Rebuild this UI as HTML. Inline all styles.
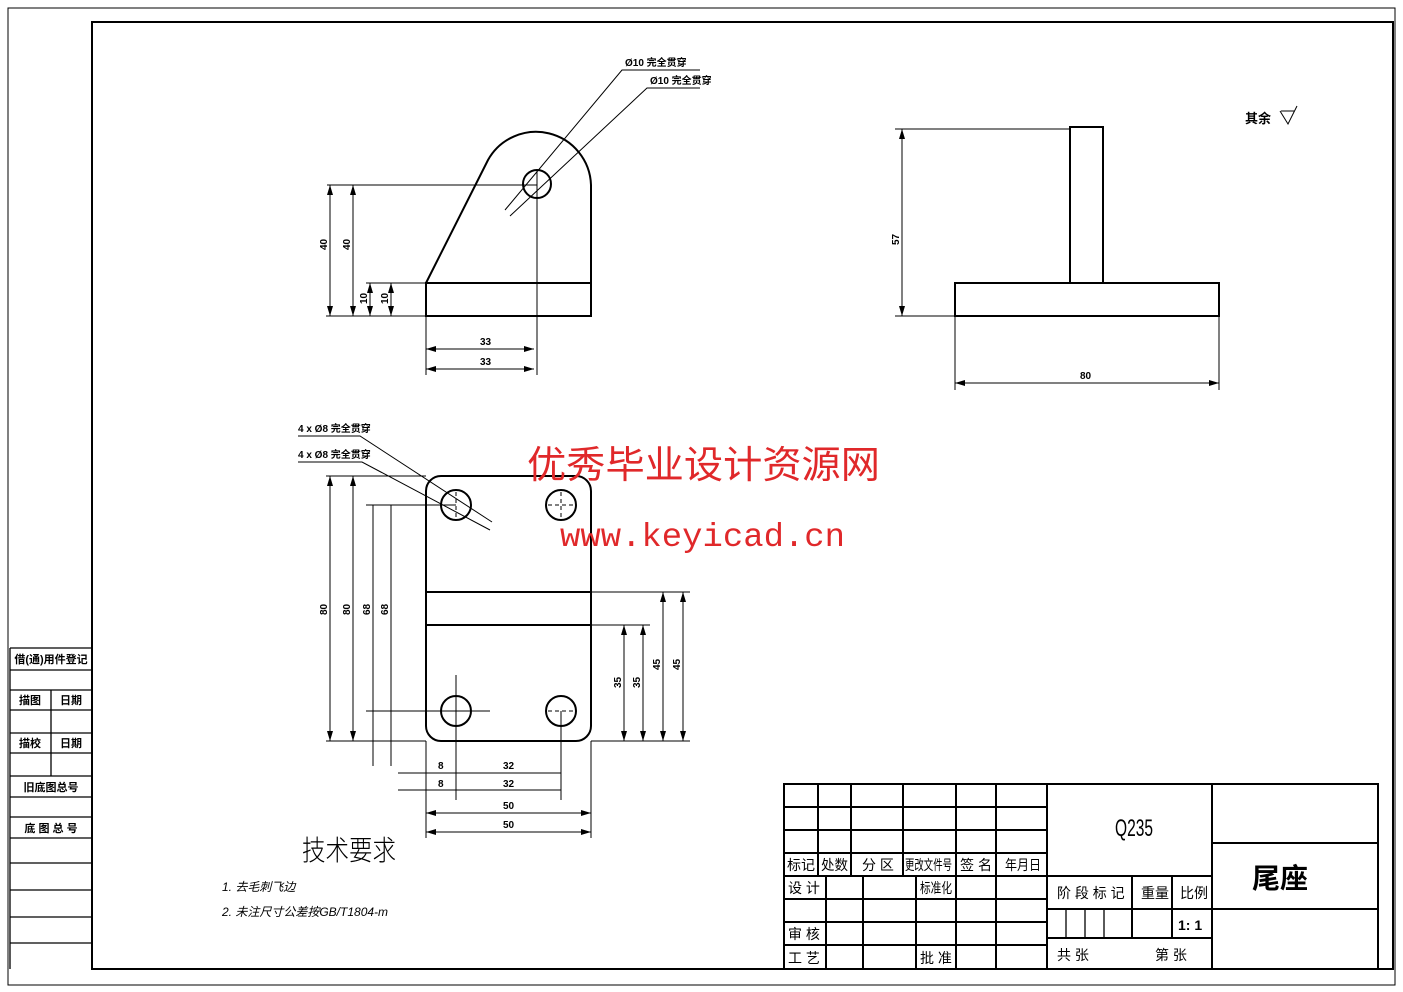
<!DOCTYPE html>
<html><head><meta charset="utf-8"><style>
html,body{margin:0;padding:0;background:#fff;}
svg{display:block;}
text{font-family:"Liberation Sans","Noto Sans CJK SC",sans-serif;fill:#000;}
</style></head><body>
<svg width="1403" height="992" viewBox="0 0 1403 992" xmlns="http://www.w3.org/2000/svg">
<defs>
<marker id="a" viewBox="0 0 10 6" refX="10" refY="3" markerWidth="10" markerHeight="6" orient="auto-start-reverse" markerUnits="userSpaceOnUse"><path d="M0,0L10,3L0,6z" fill="#000"/></marker>
</defs>
<rect x="8" y="8" width="1387" height="977" fill="none" stroke="#000" stroke-width="1"/>
<rect x="92" y="22" width="1301" height="947" fill="none" stroke="#000" stroke-width="2"/>
<g stroke="#000" stroke-width="1.3" fill="none">
<line x1="10" y1="648" x2="10" y2="969"/>
<line x1="10" y1="648" x2="92" y2="648"/>
<line x1="10" y1="670" x2="92" y2="670"/>
<line x1="10" y1="690" x2="92" y2="690"/>
<line x1="10" y1="710" x2="92" y2="710"/>
<line x1="10" y1="733" x2="92" y2="733"/>
<line x1="10" y1="753" x2="92" y2="753"/>
<line x1="10" y1="776" x2="92" y2="776"/>
<line x1="10" y1="797" x2="92" y2="797"/>
<line x1="10" y1="817" x2="92" y2="817"/>
<line x1="10" y1="838" x2="92" y2="838"/>
<line x1="10" y1="863" x2="92" y2="863"/>
<line x1="10" y1="890" x2="92" y2="890"/>
<line x1="10" y1="917" x2="92" y2="917"/>
<line x1="10" y1="943" x2="92" y2="943"/>
<line x1="51" y1="690" x2="51" y2="776"/>
</g>
<g font-size="11" font-weight="bold" text-anchor="middle">
<text x="51" y="663">借(通)用件登记</text>
<text x="30" y="704">描图</text><text x="71" y="704">日期</text>
<text x="30" y="747">描校</text><text x="71" y="747">日期</text>
<text x="51" y="791">旧底图总号</text>
<text x="51" y="832">底 图 总 号</text>
</g>
<g stroke="#000" stroke-width="2" fill="none">
<rect x="784" y="784" width="594" height="185"/>
<line x1="784" y1="807" x2="1047" y2="807"/>
<line x1="784" y1="830" x2="1047" y2="830"/>
<line x1="784" y1="853" x2="1047" y2="853"/>
<line x1="784" y1="876" x2="1212" y2="876"/>
<line x1="784" y1="899" x2="1047" y2="899"/>
<line x1="784" y1="922" x2="1047" y2="922"/>
<line x1="784" y1="945" x2="1047" y2="945"/>
<line x1="818" y1="784" x2="818" y2="876"/>
<line x1="851" y1="784" x2="851" y2="876"/>
<line x1="903" y1="784" x2="903" y2="876"/>
<line x1="956" y1="784" x2="956" y2="969"/>
<line x1="996" y1="784" x2="996" y2="969"/>
<line x1="1047" y1="784" x2="1047" y2="969"/>
<line x1="826" y1="876" x2="826" y2="969"/>
<line x1="863" y1="876" x2="863" y2="969"/>
<line x1="916" y1="876" x2="916" y2="969"/>
<line x1="1212" y1="784" x2="1212" y2="969"/>
<line x1="1047" y1="909" x2="1212" y2="909"/>
<line x1="1047" y1="938" x2="1212" y2="938"/>
<line x1="1132" y1="876" x2="1132" y2="938"/>
<line x1="1172" y1="876" x2="1172" y2="938"/>
<line x1="1212" y1="843" x2="1378" y2="843"/>
<line x1="1212" y1="909" x2="1378" y2="909"/>
</g>
<g stroke="#000" stroke-width="1.3"><line x1="1066" y1="909" x2="1066" y2="938"/><line x1="1085" y1="909" x2="1085" y2="938"/><line x1="1104" y1="909" x2="1104" y2="938"/></g>
<g font-size="14">
<text x="787" y="870" textLength="28" lengthAdjust="spacingAndGlyphs">标记</text>
<text x="821" y="870" textLength="27" lengthAdjust="spacingAndGlyphs">处数</text>
<text x="862" y="870">分 区</text>
<text x="905" y="870" textLength="47" lengthAdjust="spacingAndGlyphs">更改文件号</text>
<text x="960" y="870" textLength="32" lengthAdjust="spacingAndGlyphs">签 名</text>
<text x="1005" y="870" textLength="36" lengthAdjust="spacingAndGlyphs">年月日</text>
<text x="788" y="893">设 计</text>
<text x="920" y="893" textLength="32" lengthAdjust="spacingAndGlyphs">标准化</text>
<text x="788" y="939">审 核</text><text x="788" y="963">工 艺</text><text x="920" y="963">批 准</text>
<text x="1057" y="898">阶 段 标 记</text><text x="1141" y="898">重量</text><text x="1180" y="898">比例</text>
<text x="1178" y="930" font-weight="bold">1: 1</text>
<text x="1057" y="960">共    张</text><text x="1155" y="960">第    张</text>
</g>
<text x="1134" y="836" font-size="24" text-anchor="middle" textLength="38" lengthAdjust="spacingAndGlyphs">Q235</text>
<text x="1280" y="888" font-size="28" font-weight="bold" text-anchor="middle">尾座</text>
<g stroke="#000" stroke-width="2" fill="none">
<rect x="426" y="283" width="165" height="33"/>
<path d="M426,283 L488,160 A55,55 0 0 1 591,185 L591,283"/>
<circle cx="537" cy="184" r="14"/>
</g>
<g stroke="#000" stroke-width="1" fill="none">
<line x1="327" y1="185" x2="537" y2="185"/><line x1="537" y1="170" x2="537" y2="375"/>
<line x1="326" y1="316" x2="426" y2="316"/><line x1="366" y1="283" x2="426" y2="283"/>
<line x1="426" y1="316" x2="426" y2="375"/>
<line x1="330" y1="185" x2="330" y2="316" marker-start="url(#a)" marker-end="url(#a)"/>
<line x1="353" y1="185" x2="353" y2="316" marker-start="url(#a)" marker-end="url(#a)"/>
<line x1="370" y1="283" x2="370" y2="316" marker-start="url(#a)" marker-end="url(#a)"/>
<line x1="391" y1="283" x2="391" y2="316" marker-start="url(#a)" marker-end="url(#a)"/>
<line x1="426" y1="349" x2="534" y2="349" marker-start="url(#a)" marker-end="url(#a)"/>
<line x1="426" y1="369" x2="534" y2="369" marker-start="url(#a)" marker-end="url(#a)"/>
<polyline points="505,210 622,70 700,70"/>
<polyline points="510,216 647,88 700,88"/>
</g>
<g font-size="10" font-weight="bold">
<text x="625" y="66">Ø10 完全贯穿</text><text x="650" y="84">Ø10 完全贯穿</text>
<text x="480" y="345">33</text><text x="480" y="365">33</text>
<text transform="translate(327,250) rotate(-90)">40</text><text transform="translate(350,250) rotate(-90)">40</text>
<text transform="translate(367,304) rotate(-90)">10</text><text transform="translate(388,304) rotate(-90)">10</text>
</g>
<g stroke="#000" stroke-width="2" fill="none">
<rect x="1070" y="127" width="33" height="156"/>
<rect x="955" y="283" width="264" height="33"/>
</g>
<g stroke="#000" stroke-width="1" fill="none">
<line x1="895" y1="129" x2="1070" y2="129"/><line x1="895" y1="316" x2="955" y2="316"/>
<line x1="902" y1="129" x2="902" y2="316" marker-start="url(#a)" marker-end="url(#a)"/>
<line x1="955" y1="316" x2="955" y2="390"/><line x1="1219" y1="316" x2="1219" y2="390"/>
<line x1="955" y1="383" x2="1219" y2="383" marker-start="url(#a)" marker-end="url(#a)"/>
<path d="M1280,111 L1288,124 L1297,106 M1281,111 L1294,111"/>
</g>
<g font-size="10" font-weight="bold">
<text transform="translate(899,245) rotate(-90)">57</text>
<text x="1080" y="379">80</text>
<text x="1245" y="123" font-size="13">其余</text>
</g>
<g stroke="#000" stroke-width="2" fill="none">
<rect x="426" y="476" width="165" height="265" rx="15"/>
<line x1="426" y1="592" x2="591" y2="592"/><line x1="426" y1="625" x2="591" y2="625"/>
<circle cx="456" cy="505" r="15"/><circle cx="561" cy="505" r="15"/>
<circle cx="456" cy="711" r="15"/><circle cx="561" cy="711" r="15"/>
</g>
<g stroke="#000" stroke-width="1" fill="none" stroke-dasharray="4,3">
<line x1="548" y1="505" x2="574" y2="505"/><line x1="561" y1="492" x2="561" y2="518"/>
<line x1="548" y1="711" x2="574" y2="711"/>
<line x1="456" y1="492" x2="456" y2="518"/>
</g>
<g stroke="#000" stroke-width="1" fill="none">
<line x1="326" y1="476" x2="426" y2="476"/><line x1="366" y1="505" x2="456" y2="505"/>
<line x1="326" y1="741" x2="426" y2="741"/><line x1="366" y1="711" x2="490" y2="711"/>
<line x1="456" y1="675" x2="456" y2="800"/><line x1="561" y1="711" x2="561" y2="800"/>
<line x1="426" y1="741" x2="426" y2="838"/><line x1="591" y1="741" x2="591" y2="838"/>
<line x1="591" y1="592" x2="690" y2="592"/><line x1="591" y1="625" x2="650" y2="625"/><line x1="591" y1="741" x2="690" y2="741"/>
<line x1="330" y1="476" x2="330" y2="741" marker-start="url(#a)" marker-end="url(#a)"/>
<line x1="353" y1="476" x2="353" y2="741" marker-start="url(#a)" marker-end="url(#a)"/>
<line x1="373" y1="505" x2="373" y2="766"/>
<line x1="391" y1="505" x2="391" y2="766"/>
<line x1="624" y1="625" x2="624" y2="741" marker-start="url(#a)" marker-end="url(#a)"/>
<line x1="643" y1="625" x2="643" y2="741" marker-start="url(#a)" marker-end="url(#a)"/>
<line x1="663" y1="592" x2="663" y2="741" marker-start="url(#a)" marker-end="url(#a)"/>
<line x1="683" y1="592" x2="683" y2="741" marker-start="url(#a)" marker-end="url(#a)"/>
<line x1="398" y1="773" x2="561" y2="773"/><line x1="398" y1="790" x2="561" y2="790"/>
<line x1="426" y1="813" x2="591" y2="813" marker-start="url(#a)" marker-end="url(#a)"/>
<line x1="426" y1="832" x2="591" y2="832" marker-start="url(#a)" marker-end="url(#a)"/>
<polyline points="298,436 360,436 492,522"/>
<polyline points="298,462 362,462 490,530"/>
</g>
<g font-size="10" font-weight="bold">
<text x="298" y="432">4 x Ø8 完全贯穿</text><text x="298" y="458">4 x Ø8 完全贯穿</text>
<text transform="translate(327,615) rotate(-90)">80</text><text transform="translate(350,615) rotate(-90)">80</text>
<text transform="translate(370,615) rotate(-90)">68</text><text transform="translate(388,615) rotate(-90)">68</text>
<text transform="translate(621,688) rotate(-90)">35</text><text transform="translate(640,688) rotate(-90)">35</text>
<text transform="translate(660,670) rotate(-90)">45</text><text transform="translate(680,670) rotate(-90)">45</text>
<text x="438" y="769">8</text><text x="438" y="787">8</text>
<text x="503" y="769">32</text><text x="503" y="787">32</text>
<text x="503" y="809">50</text><text x="503" y="828">50</text>
</g>
<text x="302" y="860" font-size="28" font-weight="300" fill="#333" textLength="94" lengthAdjust="spacingAndGlyphs">技术要求</text>
<text x="222" y="891" font-size="12" font-style="italic">1. 去毛刺飞边</text>
<text x="222" y="916" font-size="12" font-style="italic">2. 未注尺寸公差按GB/T1804-m</text>
<text x="527" y="478" font-size="38" style="fill:#e0282a" textLength="353" lengthAdjust="spacingAndGlyphs">优秀毕业设计资源网</text>
<text x="560" y="546" font-size="33" style="fill:#e0282a;font-family:'Liberation Mono',monospace" textLength="285" lengthAdjust="spacingAndGlyphs">www.keyicad.cn</text>
</svg>
</body></html>
